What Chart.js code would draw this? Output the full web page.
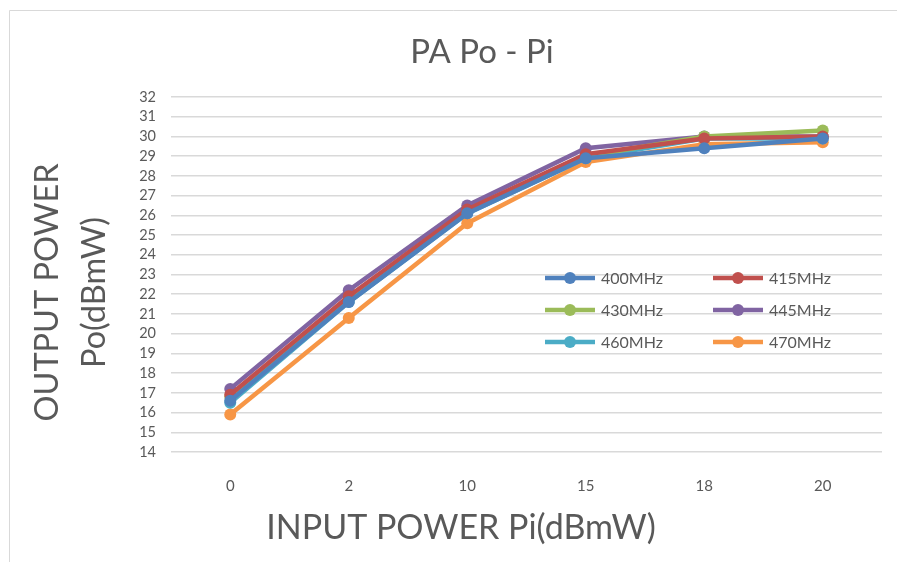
<!DOCTYPE html>
<html>
<head>
<meta charset="utf-8">
<script src="https://cdn.jsdelivr.net/npm/chart.js@4/dist/chart.umd.min.js"></script>
<style>
html,body{margin:0;padding:0;background:#fff;}
#wrap{position:relative;width:897px;height:562px;}
</style>
</head>
<body>
<div id="wrap"><canvas id="c" width="897" height="562"></canvas></div>
<script>
const categories = ['0', '2', '10', '15', '18', '20'];
const seriesNames = ['400MHz', '415MHz', '430MHz', '445MHz', '460MHz', '470MHz'];
const s400 = [16.6, 21.6, 26.1, 28.9, 29.4, 29.9];
const s415 = [16.9, 21.9, 26.3, 29.1, 29.9, 30.0];
const s430 = [16.8, 21.8, 26.2, 29.0, 30.0, 30.3];
const s445 = [17.2, 22.2, 26.5, 29.4, 30.0, 30.0];
const s460 = [16.5, 21.6, 26.1, 28.9, 29.9, 29.9];
const s470 = [15.9, 20.8, 25.6, 28.7, 29.6, 29.7];
const yMin = 14, yMax = 32;
const chartTitle = 'PA Po - Pi';
const xTitle = 'INPUT POWER Pi(dBmW)';
const yTitle = ['OUTPUT POWER', 'Po(dBmW)'];
const colors = ['#4F81BD', '#C0504D', '#9BBB59', '#8064A2', '#4BACC6', '#F79646'];
const seriesData = [s400, s415, s430, s445, s460, s470];

const FONT = 'Lato, "Liberation Sans", sans-serif';
const GREY = '#595959';

const datasets = seriesData.map((d, i) => ({
  label: seriesNames[i],
  data: d,
  borderColor: colors[i],
  backgroundColor: colors[i],
  borderWidth: 4.5,
  pointRadius: 6,
  pointHoverRadius: 6,
  pointBorderWidth: 0,
  tension: 0
}));

const bgPlugin = {
  id: 'bg',
  beforeDraw(chart) {
    const ctx = chart.ctx;
    ctx.save();
    ctx.fillStyle = '#fff';
    ctx.fillRect(0, 0, chart.width, chart.height);
    ctx.strokeStyle = '#d9d9d9';
    ctx.lineWidth = 1;
    ctx.beginPath();
    ctx.moveTo(9.5, chart.height);
    ctx.lineTo(9.5, 10.5);
    ctx.lineTo(chart.width, 10.5);
    ctx.stroke();
    ctx.restore();
  }
};

const titlesPlugin = {
  id: 'titles',
  afterDraw(chart) {
    const ctx = chart.ctx;
    const a = chart.chartArea;
    ctx.save();
    ctx.fillStyle = GREY;
    ctx.textAlign = 'center';
    ctx.textBaseline = 'middle';
    ctx.font = '33px ' + FONT;
    ctx.fillText(chartTitle, a.left + 311, 52);
    ctx.font = '34px ' + FONT;
    ctx.fillText(xTitle, a.left + 290, a.bottom + 76);
    ctx.translate(0, (a.top + a.bottom) / 2 + 18);
    ctx.rotate(-Math.PI / 2);
    ctx.font = '32.5px ' + FONT;
    ctx.fillText(yTitle[0], 0, 48);
    ctx.fillText(yTitle[1], 0, 95);
    ctx.restore();
  }
};

const legendPlugin = {
  id: 'innerLegend',
  afterDatasetsDraw(chart) {
    const ctx = chart.ctx;
    const area = chart.chartArea;
    const colX = [area.left + 374, area.left + 542];
    const rowY = [area.top + 181, area.top + 213, area.top + 245];
    ctx.save();
    ctx.font = '16px ' + FONT;
    ctx.textBaseline = 'middle';
    ctx.textAlign = 'left';
    chart.data.datasets.forEach((ds, i) => {
      const x = colX[i % 2];
      const y = rowY[Math.floor(i / 2)];
      ctx.strokeStyle = ds.borderColor;
      ctx.lineWidth = 4.5;
      ctx.beginPath();
      ctx.moveTo(x, y);
      ctx.lineTo(x + 50, y);
      ctx.stroke();
      ctx.fillStyle = ds.borderColor;
      ctx.beginPath();
      ctx.arc(x + 25, y, 6, 0, Math.PI * 2);
      ctx.fill();
      ctx.fillStyle = GREY;
      ctx.fillText(ds.label, x + 56, y + 1);
    });
    ctx.restore();
  }
};

new Chart(document.getElementById('c'), {
  type: 'line',
  data: { labels: categories, datasets },
  plugins: [bgPlugin, legendPlugin, titlesPlugin],
  options: {
    responsive: false,
    animation: false,
    devicePixelRatio: 1,
    layout: { padding: { left: 0, right: 15, top: 97, bottom: 0 } },
    plugins: {
      legend: { display: false },
      tooltip: { enabled: false },
      title: { display: false }
    },
    scales: {
      x: {
        type: 'category',
        offset: true,
        grid: { display: false, drawTicks: false },
        border: { display: false },
        ticks: { color: GREY, font: { family: FONT, size: 15 }, padding: 25, maxRotation: 0, autoSkip: false },
        afterFit(scale) { scale.height = 110; }
      },
      y: {
        min: yMin,
        max: yMax,
        grid: { color: '#d9d9d9', lineWidth: 1.5, drawTicks: false },
        border: { display: false },
        ticks: { stepSize: 1, color: GREY, font: { family: FONT, size: 14.5, lineHeight: 1 }, padding: 15, autoSkip: false },
        afterFit(scale) { scale.width = 171; }
      }
    }
  }
});
</script>
</body>
</html>
